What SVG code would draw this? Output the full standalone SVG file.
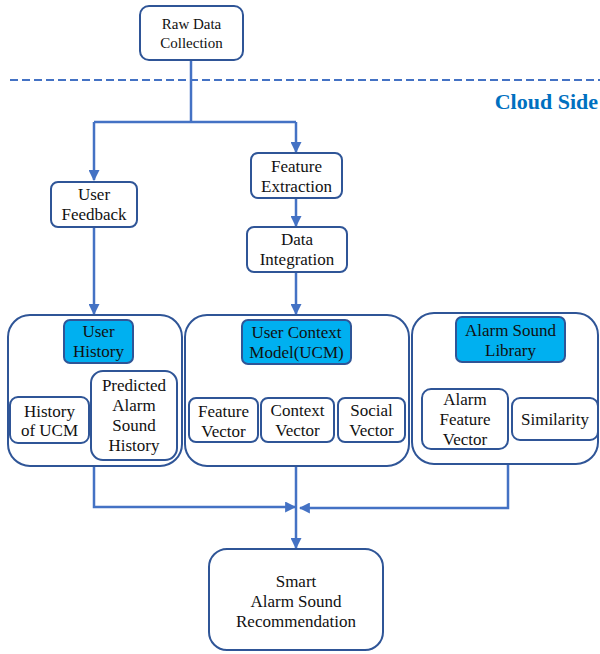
<svg xmlns="http://www.w3.org/2000/svg" width="600" height="654" viewBox="0 0 600 654">
  <style>
    .box { fill: #ffffff; stroke: #2F5597; stroke-width: 2; }
    .hl { fill: #00B0F0; stroke: #2F5597; stroke-width: 2; }
    .grp { fill: none; stroke: #2F5597; stroke-width: 2; }
    text { font-family: 'Liberation Serif', 'DejaVu Serif', serif; }
    .t { font-size: 17px; fill: #111111; text-anchor: middle; }
    .ts { font-size: 15px; }
    .wire { fill: none; stroke: #4472C4; stroke-width: 2.5; }
    .cloud { font-size: 22px; font-weight: bold; fill: #0070C0; text-anchor: end; }
  </style>
  <defs>
    <marker id="arr" viewBox="0 0 10 10" refX="9" refY="5" markerWidth="4.4" markerHeight="4.4" orient="auto">
      <path d="M0,0 L10,5 L0,10 z" fill="#4472C4"/>
    </marker>
  </defs>
  <rect width="600" height="654" fill="#ffffff"/>

  <!-- boundary between device and cloud -->
  <line x1="10" y1="80" x2="600" y2="80" stroke="#4472C4" stroke-width="2" stroke-dasharray="8,4"/>
  <text class="cloud" x="598" y="109">Cloud Side</text>

  <g id="connectors">
    <path class="wire" d="M191,60 V122"/>
    <path class="wire" d="M94,122 H296"/>
    <path class="wire" d="M296,122 V152" marker-end="url(#arr)"/>
    <path class="wire" d="M94,122 V180" marker-end="url(#arr)"/>
    <path class="wire" d="M296,198 V226" marker-end="url(#arr)"/>
    <path class="wire" d="M296,272 V314" marker-end="url(#arr)"/>
    <path class="wire" d="M94,227 V314" marker-end="url(#arr)"/>
    <path class="wire" d="M94,466 V507 H295" marker-end="url(#arr)"/>
    <path class="wire" d="M508,464 V508 H300" marker-end="url(#arr)"/>
    <path class="wire" d="M296,466 V548" marker-end="url(#arr)"/>
  </g>

  <g id="raw-data">
    <rect class="box" x="140" y="6" width="103" height="54" rx="9"/>
    <text class="t ts" x="191.5" y="29">Raw Data</text>
    <text class="t ts" x="191.5" y="48">Collection</text>
  </g>

  <g id="user-feedback">
    <rect class="box" x="51" y="182" width="86" height="45" rx="7"/>
    <text class="t" x="94" y="200">User</text>
    <text class="t" x="94" y="220">Feedback</text>
  </g>

  <g id="feature-extraction">
    <rect class="box" x="251" y="153" width="91" height="45" rx="7"/>
    <text class="t" x="296.5" y="172">Feature</text>
    <text class="t" x="296.5" y="192">Extraction</text>
  </g>

  <g id="data-integration">
    <rect class="box" x="247" y="227" width="100" height="45" rx="7"/>
    <text class="t" x="297" y="245">Data</text>
    <text class="t" x="297" y="265">Integration</text>
  </g>

  <g id="user-history-group">
    <rect class="grp" x="8" y="315" width="174" height="151" rx="22"/>
    <g id="user-history">
      <rect class="hl" x="64" y="320" width="69" height="43" rx="6"/>
      <text class="t" x="98.5" y="337">User</text>
      <text class="t" x="98.5" y="357">History</text>
    </g>
    <g id="history-ucm">
      <rect class="box" x="10" y="397" width="79" height="46" rx="8"/>
      <text class="t" x="49.5" y="417">History</text>
      <text class="t" x="49.5" y="436">of UCM</text>
    </g>
    <g id="predicted-history">
      <rect class="box" x="91" y="371" width="86" height="89" rx="12"/>
      <text class="t" x="134" y="391">Predicted</text>
      <text class="t" x="134" y="411">Alarm</text>
      <text class="t" x="134" y="431">Sound</text>
      <text class="t" x="134" y="451">History</text>
    </g>
  </g>

  <g id="ucm-group">
    <rect class="grp" x="185" y="315" width="224" height="151" rx="22"/>
    <g id="ucm">
      <rect class="hl" x="242" y="320" width="109" height="44" rx="6"/>
      <text class="t" x="296.5" y="338">User Context</text>
      <text class="t" x="296.5" y="358">Model(UCM)</text>
    </g>
    <g id="feature-vector">
      <rect class="box" x="189" y="398" width="69" height="44" rx="7"/>
      <text class="t" x="223.5" y="417">Feature</text>
      <text class="t" x="223.5" y="437">Vector</text>
    </g>
    <g id="context-vector">
      <rect class="box" x="261" y="398" width="73" height="44" rx="7"/>
      <text class="t" x="297.5" y="416">Context</text>
      <text class="t" x="297.5" y="436">Vector</text>
    </g>
    <g id="social-vector">
      <rect class="box" x="338" y="398" width="67" height="44" rx="7"/>
      <text class="t" x="371.5" y="416">Social</text>
      <text class="t" x="371.5" y="436">Vector</text>
    </g>
  </g>

  <g id="library-group">
    <rect class="grp" x="412" y="313" width="186" height="151" rx="22"/>
    <g id="alarm-library">
      <rect class="hl" x="456" y="317" width="109" height="45" rx="6"/>
      <text class="t" x="510.5" y="336">Alarm Sound</text>
      <text class="t" x="510.5" y="356">Library</text>
    </g>
    <g id="alarm-feature-vector">
      <rect class="box" x="422" y="389" width="86" height="60" rx="9"/>
      <text class="t" x="465" y="405">Alarm</text>
      <text class="t" x="465" y="425">Feature</text>
      <text class="t" x="465" y="445">Vector</text>
    </g>
    <g id="similarity">
      <rect class="box" x="512" y="398" width="86" height="42" rx="8"/>
      <text class="t" x="555" y="425">Similarity</text>
    </g>
  </g>

  <g id="recommendation">
    <rect class="box" x="209" y="549" width="174" height="101" rx="18"/>
    <text class="t" x="296" y="587">Smart</text>
    <text class="t" x="296" y="607">Alarm Sound</text>
    <text class="t" x="296" y="627">Recommendation</text>
  </g>
</svg>
